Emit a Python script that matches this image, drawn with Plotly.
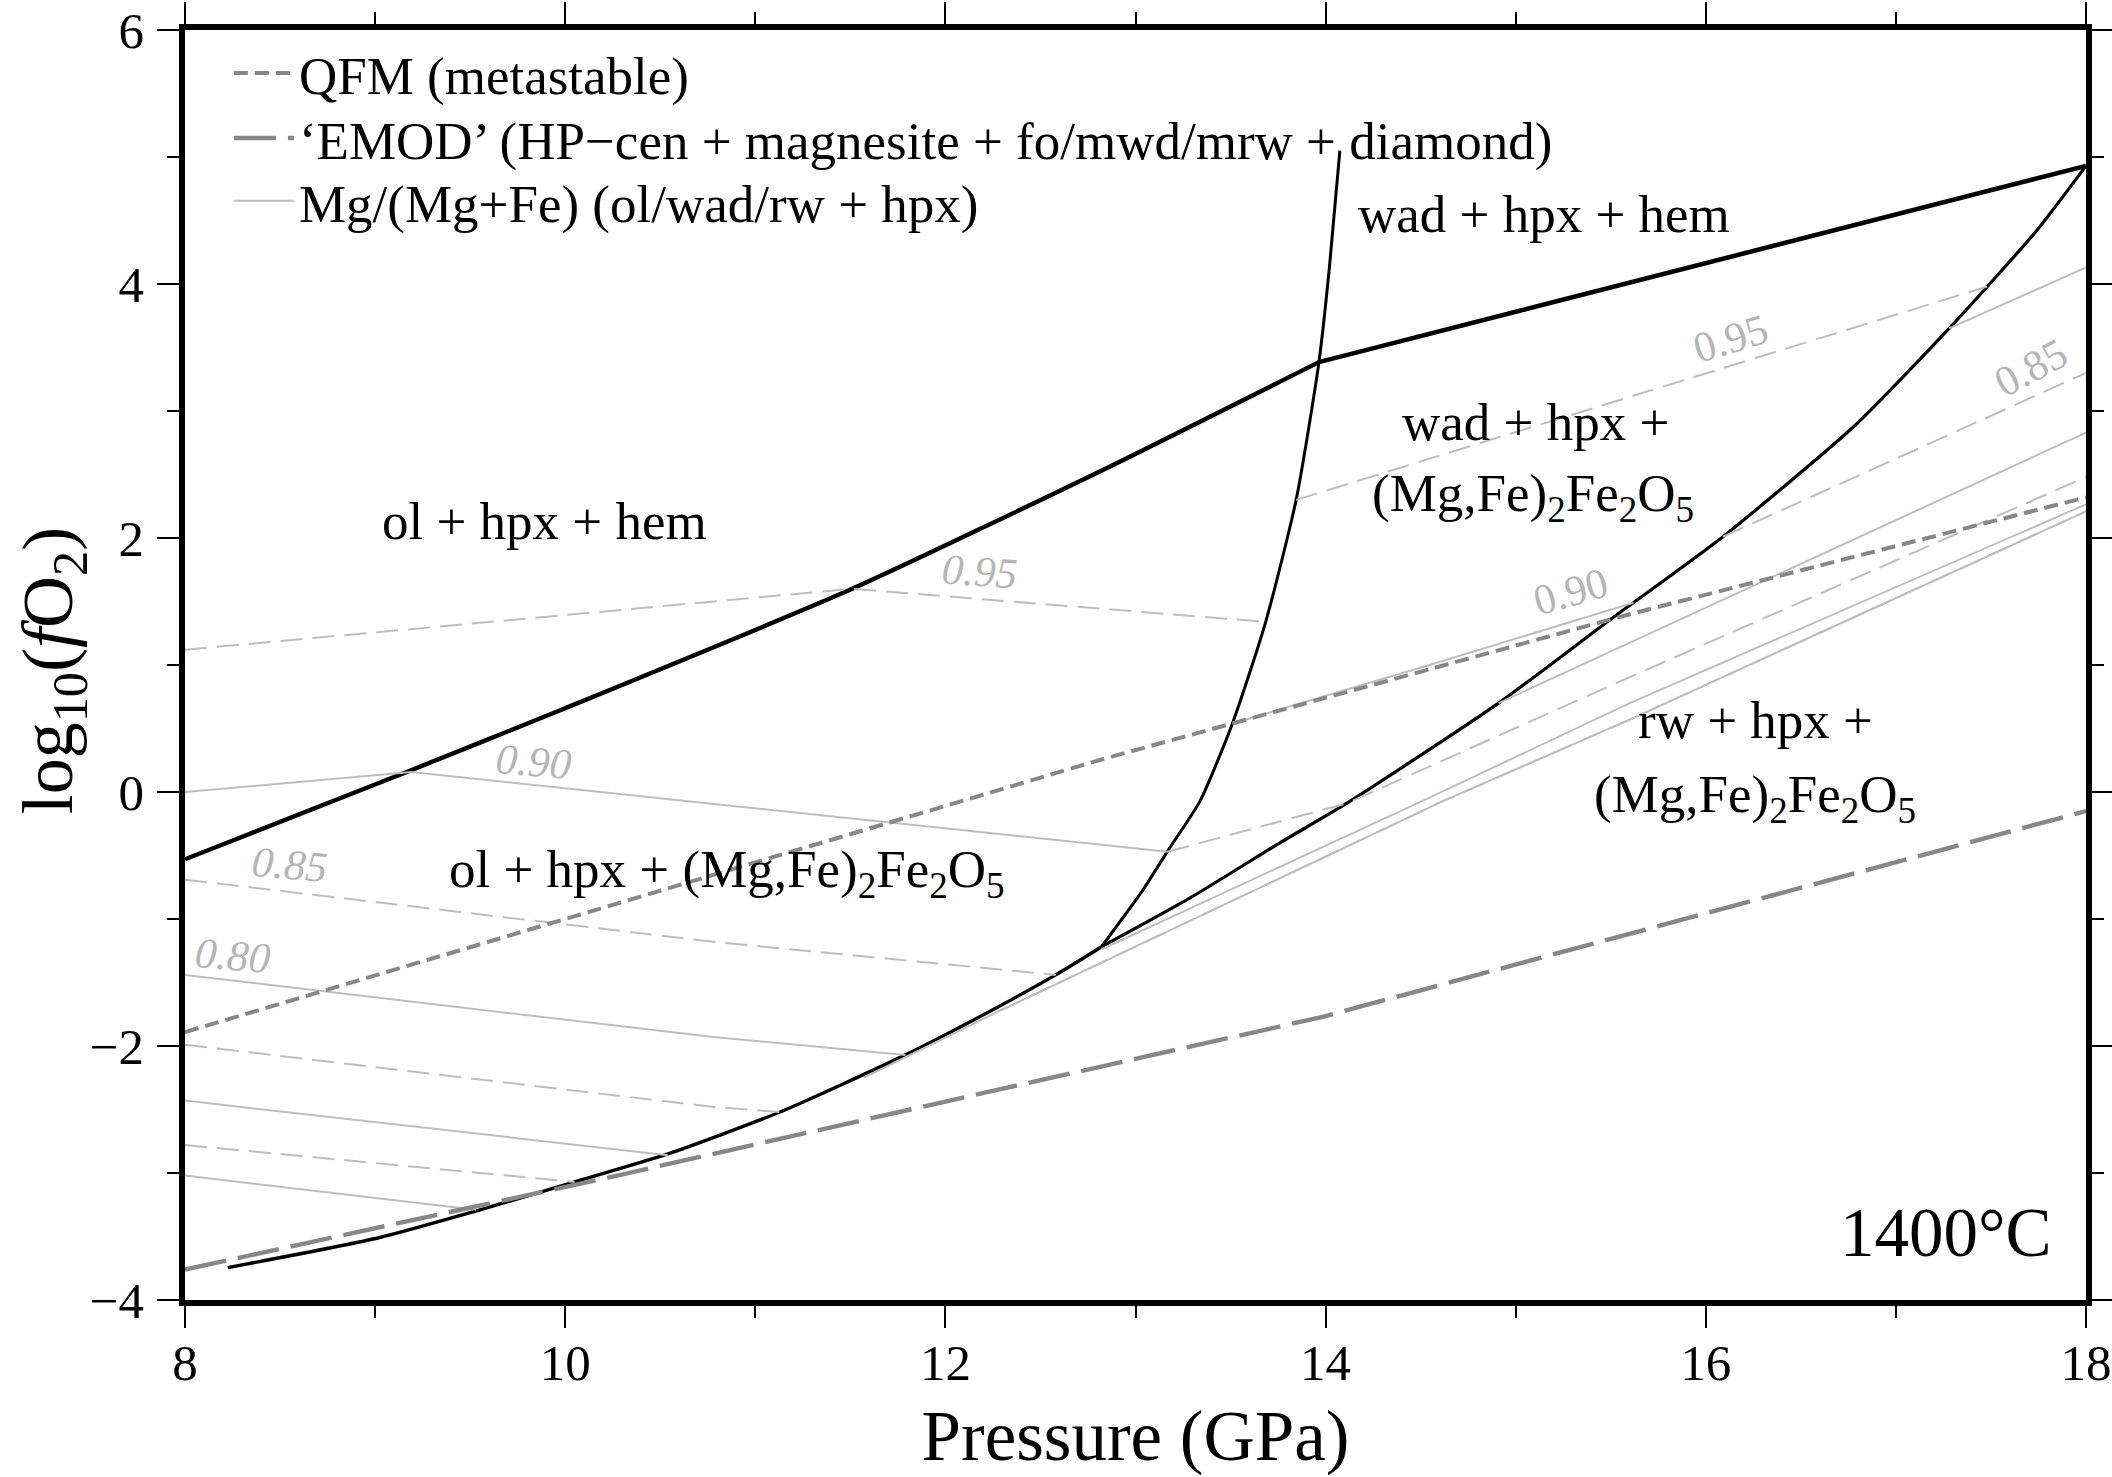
import plotly.graph_objects as go

FONT = "Liberation Serif"
BLACK = "#000000"
ISO = "#bdbdbd"
BUF = "#878787"
LBL = "#b5b5b5"

# ---------------- phase boundaries (P in GPa, log10 fO2) ----------------
hem_ol_P = [8.0, 9.17, 10.0, 11.51, 12.82, 13.965]
hem_ol_f = [-0.53, 0.16, 0.66, 1.60, 2.53, 3.385]
hem_wad_P = [13.965, 15.23, 16.76, 18.0]
hem_wad_f = [3.385, 3.87, 4.45, 4.93]
olwad_P = [12.82, 13.035, 13.18, 13.34, 13.51, 13.685, 13.845, 13.965, 14.02, 14.075]
olwad_f = [-1.22, -0.78, -0.44, -0.07, 0.54, 1.34, 2.30, 3.385, 4.13, 5.05]
low_P = [8.225, 9.02, 9.53, 10.05, 10.54, 11.13, 11.79, 12.23, 12.58, 12.82]
low_f = [-3.745, -3.51, -3.30, -3.07, -2.85, -2.52, -2.07, -1.73, -1.44, -1.22]
wadrw_P = [12.82, 13.28, 13.76, 14.11, 14.91, 15.5, 16.09, 16.78, 17.28, 17.74, 18.0]
wadrw_f = [-1.22, -0.84, -0.40, -0.09, 0.70, 1.36, 2.01, 2.88, 3.65, 4.42, 4.93]

# ---------------- buffers ----------------
qfm_P = [8.0, 10.78, 12.83, 13.51, 15.6, 18.0]
qfm_f = [-1.89, -0.65, 0.26, 0.54, 1.40, 2.32]
emod_P = [8.0, 10.185, 12.29, 13.985, 15.07, 18.0]
emod_f = [-3.76, -3.05, -2.34, -1.77, -1.33, -0.15]

# ---------------- Mg/(Mg+Fe) isopleths ----------------
# olivine field
iso_ol_095_P = [8.0, 11.51, 13.685]; iso_ol_095_f = [1.12, 1.60, 1.34]
iso_ol_090_P = [8.0, 9.19, 13.17]; iso_ol_090_f = [0.0, 0.157, -0.47]
iso_ol_085_P = [8.0, 10.78, 12.58]; iso_ol_085_f = [-0.69, -1.18, -1.44]
iso_ol_080_P = [8.0, 10.78, 11.79]; iso_ol_080_f = [-1.44, -1.93, -2.07]
iso_ol_075_P = [8.0, 10.78, 11.13]; iso_ol_075_f = [-1.99, -2.48, -2.52]
iso_ol_070_P = [8.0, 10.54]; iso_ol_070_f = [-2.43, -2.86]
iso_ol_065_P = [8.0, 10.05]; iso_ol_065_f = [-2.78, -3.07]
iso_ol_060_P = [8.0, 9.53]; iso_ol_060_f = [-3.02, -3.29]
# wadsleyite field
iso_wad_095_P = [13.845, 17.48]; iso_wad_095_f = [2.30, 3.98]
iso_wad_090_P = [13.51, 14.59, 15.62]; iso_wad_090_f = [0.54, 1.02, 1.49]
iso_wad_085_P = [13.17, 14.11, 15.6, 18.0]; iso_wad_085_f = [-0.47, -0.09, 0.905, 2.48]
# ringwoodite field
iso_rw_a_P = [17.28, 18.0]; iso_rw_a_f = [3.65, 4.13]
iso_rw_b_P = [16.09, 18.0]; iso_rw_b_f = [2.01, 3.30]
iso_rw_c_P = [14.91, 18.0]; iso_rw_c_f = [0.70, 2.83]
iso_rw_d_P = [12.82, 14.51, 15.60, 18.0]; iso_rw_d_f = [-1.24, -0.07, 0.70, 2.265]
iso_rw_e_P = [11.57, 12.29, 14.62, 15.60, 18.0]; iso_rw_e_f = [-2.25, -1.72, -0.07, 0.57, 2.21]
iso_rw_f_P = [12.29, 14.62, 15.60, 18.0]; iso_rw_f_f = [-1.72, -0.07, 0.57, 2.21]

# isopleth labels: (text, P, f, angle, italic)
iso_labels = [
    ("0.95", 12.18, 1.735, 4, True),
    ("0.90", 9.835, 0.241, 5, True),
    ("0.85", 8.55, -0.57, 5, True),
    ("0.80", 8.25, -1.29, 5, True),
    ("0.95", 16.13, 3.57, -17, False),
    ("0.85", 17.71, 3.345, -28, False),
    ("0.90", 15.29, 1.578, -16, False),
]
# field labels: (text, P, f)
field_labels = [
    ("ol + hpx + hem", 9.89, 2.13),
    ("ol + hpx + (Mg,Fe)<sub>2</sub>Fe<sub>2</sub>O<sub>5</sub>", 10.85, -0.64),
    ("wad + hpx + hem", 15.15, 4.55),
    ("wad + hpx +", 15.105, 2.91),
    ("(Mg,Fe)<sub>2</sub>Fe<sub>2</sub>O<sub>5</sub>", 15.09, 2.32),
    ("rw + hpx +", 16.26, 0.565),
    ("(Mg,Fe)<sub>2</sub>Fe<sub>2</sub>O<sub>5</sub>", 16.26, -0.05),
]

fig = go.Figure()


def add(P, f, color, width, dash="solid", name=None, legend=None, spline=False):
    fig.add_trace(go.Scatter(
        x=P, y=f, mode="lines", name=name, showlegend=legend is not None,
        legend=legend if legend else "legend",
        line=dict(color=color, width=width, dash=dash,
                  shape="spline" if spline else "linear", smoothing=0.6),
        hoverinfo="skip"))


# black phase boundaries
add(hem_ol_P, hem_ol_f, BLACK, 4.4, spline=True)
add(hem_wad_P, hem_wad_f, BLACK, 4.6)
add(olwad_P, olwad_f, BLACK, 3.0, spline=True)
add(low_P, low_f, BLACK, 3.4, spline=True)
add(wadrw_P, wadrw_f, BLACK, 3.2, spline=True)

# isopleths
DASH_ISO = "22px,10px"
solid_iso = [(iso_ol_090_P, iso_ol_090_f), (iso_ol_080_P, iso_ol_080_f), (iso_ol_070_P, iso_ol_070_f),
             (iso_ol_060_P, iso_ol_060_f), (iso_wad_090_P, iso_wad_090_f), (iso_rw_a_P, iso_rw_a_f),
             (iso_rw_c_P, iso_rw_c_f), (iso_rw_d_P, iso_rw_d_f), (iso_rw_e_P, iso_rw_e_f)]
dashed_iso = [(iso_ol_095_P, iso_ol_095_f), (iso_ol_085_P, iso_ol_085_f), (iso_ol_075_P, iso_ol_075_f),
              (iso_ol_065_P, iso_ol_065_f), (iso_wad_095_P, iso_wad_095_f), (iso_wad_085_P, iso_wad_085_f),
              (iso_rw_b_P, iso_rw_b_f), (iso_rw_f_P, iso_rw_f_f)]
for i, (P, f) in enumerate(solid_iso):
    add(P, f, ISO, 2.0, name="Mg/(Mg+Fe) (ol/wad/rw + hpx)", legend=("legend3" if i == 0 else None))
for P, f in dashed_iso:
    add(P, f, ISO, 2.0, dash=DASH_ISO)

# buffers
add(qfm_P, qfm_f, BUF, 4.0, dash="14px,7px", name="QFM (metastable)", legend="legend")
add(emod_P, emod_f, BUF, 4.4, dash="42px,12px",
    name="\u2018EMOD\u2019 (HP\u2212cen + magnesite + fo/mwd/mrw + diamond)", legend="legend2")

ann = []
for t, P, f, a, it in iso_labels:
    ann.append(dict(x=P, y=f, xref="x", yref="y", text=(f"<i>{t}</i>" if it else t),
                    showarrow=False, textangle=a,
                    font=dict(family=FONT, size=43, color=LBL)))
for t, P, f in field_labels:
    ann.append(dict(x=P, y=f, xref="x", yref="y", text=t, showarrow=False,
                    font=dict(family=FONT, size=53, color=BLACK)))
ann.append(dict(x=17.83, y=-3.47, xref="x", yref="y", text="1400\u00b0C", showarrow=False,
                xanchor="right", font=dict(family=FONT, size=69, color=BLACK)))
# y-axis title
ann.append(dict(x=-0.0935, y=0.496, xref="paper", yref="paper", xanchor="left", yanchor="middle",
                text="log<sub>10</sub>(<i>f</i>O<sub>2</sub>)", showarrow=False, textangle=-90,
                borderpad=0, font=dict(family=FONT, size=72, color=BLACK)))

axis_common = dict(
    showline=True, linecolor=BLACK, linewidth=5.5, mirror="ticks",
    ticks="outside", ticklen=22, tickwidth=2.4, tickcolor=BLACK,
    showgrid=False, zeroline=False, automargin=False,
    tickfont=dict(family=FONT, size=51, color=BLACK),
    minor=dict(ticks="outside", ticklen=12, tickwidth=2.4, tickcolor=BLACK, dtick=1, showgrid=False),
)

leg_common = dict(xanchor="left", yanchor="top", bgcolor="rgba(0,0,0,0)",
                  font=dict(family=FONT, size=53, color=BLACK), itemwidth=60)

fig.update_layout(
    template="none",
    width=2112, height=1477,
    margin=dict(l=185, r=26, t=30, b=177, pad=0, autoexpand=False),
    paper_bgcolor="white", plot_bgcolor="white",
    font=dict(family=FONT, color=BLACK),
    xaxis=dict(range=[8, 18], tickvals=[8, 10, 12, 14, 16, 18], ticklabelstandoff=-9,
               title=dict(text="Pressure (GPa)", font=dict(family=FONT, size=71), standoff=22),
               **axis_common),
    yaxis=dict(range=[-4, 6], tickvals=[-4, -2, 0, 2, 4, 6], ticklabelstandoff=3,
               **axis_common),
    legend=dict(x=0.0231, y=0.9984, **leg_common),
    legend2=dict(x=0.0231, y=0.9472, **leg_common),
    legend3=dict(x=0.0231, y=0.8977, **leg_common),
    annotations=ann,
    showlegend=True,
)

fig.write_html("out.html", config={"displayModeBar": False},
               post_script="document.body.style.margin='0px';")
